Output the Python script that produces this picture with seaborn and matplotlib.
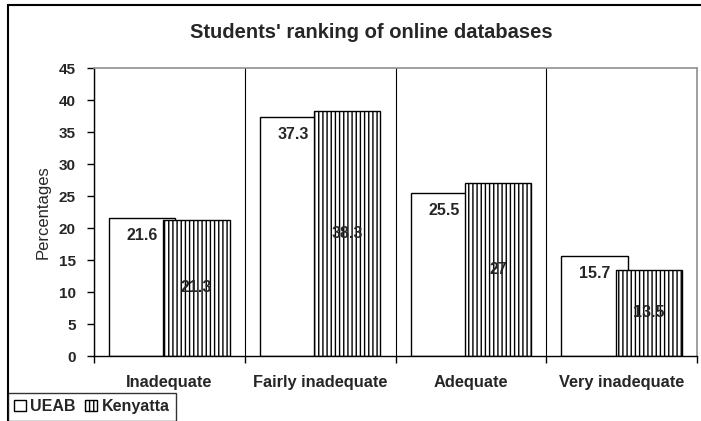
import matplotlib
matplotlib.use("Agg")
import matplotlib.pyplot as plt
import seaborn as sns
import pandas as pd
from matplotlib.patches import Rectangle, Patch

categories = ["Inadequate", "Fairly inadequate", "Adequate", "Very inadequate"]
ueab = [21.6, 37.3, 25.5, 15.7]
kenyatta = [21.3, 38.3, 27, 13.5]
series = ["UEAB", "Kenyatta"]
yticks = [0, 5, 10, 15, 20, 25, 30, 35, 40, 45]

df = pd.DataFrame({
    "category": categories * 2,
    "value": ueab + kenyatta,
    "school": [series[0]] * 4 + [series[1]] * 4,
})

sns.set_theme(style="white")
plt.rcParams["font.family"] = ["Liberation Sans", "DejaVu Sans"]
plt.rcParams["hatch.linewidth"] = 1.0

fig = plt.figure(figsize=(7.01, 4.21), dpi=100)
ax = fig.add_axes([94/701, 1-356/421, 603/701, 288/421])

sns.barplot(data=df, x="category", y="value", hue="school", order=categories,
            hue_order=series, palette=["white", "white"], width=0.72, gap=-0.22,
            edgecolor="black", linewidth=1.0, ax=ax, legend=False, errorbar=None,
            saturation=1)

for p in ax.containers[1]:
    p.set_hatch("||||")
    p.set_edgecolor("black")

ax.bar_label(ax.containers[0], labels=[f"{v:g}" for v in ueab], padding=-18,
             fontsize=11.5, fontweight="bold")
ax.bar_label(ax.containers[1], labels=[f"{v:g}" for v in kenyatta], label_type="center",
             fontsize=11.5, fontweight="bold")

ax.set_xlim(-0.5, 3.5)
ax.set_ylim(0, 45)
ax.set_yticks(yticks)
ax.set_yticklabels([str(t) for t in yticks], fontsize=11, fontweight="bold")
ax.set_xticks(range(len(categories)))
ax.set_xticklabels(categories, fontsize=11.8, fontweight="bold")
ax.set_xticks([-0.5, 0.5, 1.5, 2.5, 3.5], minor=True)
ax.tick_params(axis="x", which="major", length=0, pad=14)
ax.tick_params(axis="x", which="minor", length=5, width=1, color="black", direction="out", bottom=True)
ax.tick_params(axis="y", which="major", length=5, width=1, color="black", direction="out", left=True, pad=8)
ax.grid(False)
ax.xaxis.grid(True, which="minor", color="black", linewidth=0.8)
ax.set_axisbelow(True)
ax.set_xlabel("")
ax.set_ylabel("Percentages", fontsize=12, fontweight="normal")
ax.yaxis.set_label_coords(-0.072, 0.5)

for s in ["left", "bottom"]:
    ax.spines[s].set_color("black")
    ax.spines[s].set_linewidth(1.0)
for s in ["top", "right"]:
    ax.spines[s].set_color("#909090")
    ax.spines[s].set_linewidth(1.2)

fig.text(371/701, 1-33/421, "Students' ranking of online databases", ha="center", va="center",
         fontsize=14.5, fontweight="bold")

fig.patches.append(Rectangle((8/701, -0.2), 1.2, 1.2 - 5/421, transform=fig.transFigure,
                             fill=False, edgecolor="black", linewidth=1.5, zorder=0))

handles = [Patch(facecolor="white", edgecolor="black", linewidth=1.0, label="UEAB"),
           Patch(facecolor="white", edgecolor="black", hatch="||||", linewidth=1.0, label="Kenyatta")]
leg = fig.legend(handles=handles, loc="upper left", bbox_to_anchor=(8/701, 1-393/421),
                 ncol=2, frameon=True, fancybox=False, borderaxespad=0, handlelength=0.7,
                 handleheight=0.7, handletextpad=0.3, columnspacing=0.6, borderpad=0.4,
                 prop={"size": 11.5, "weight": "bold"})
leg.get_frame().set_edgecolor("black")
leg.get_frame().set_linewidth(1.0)

fig.savefig("out.png", dpi=100)
